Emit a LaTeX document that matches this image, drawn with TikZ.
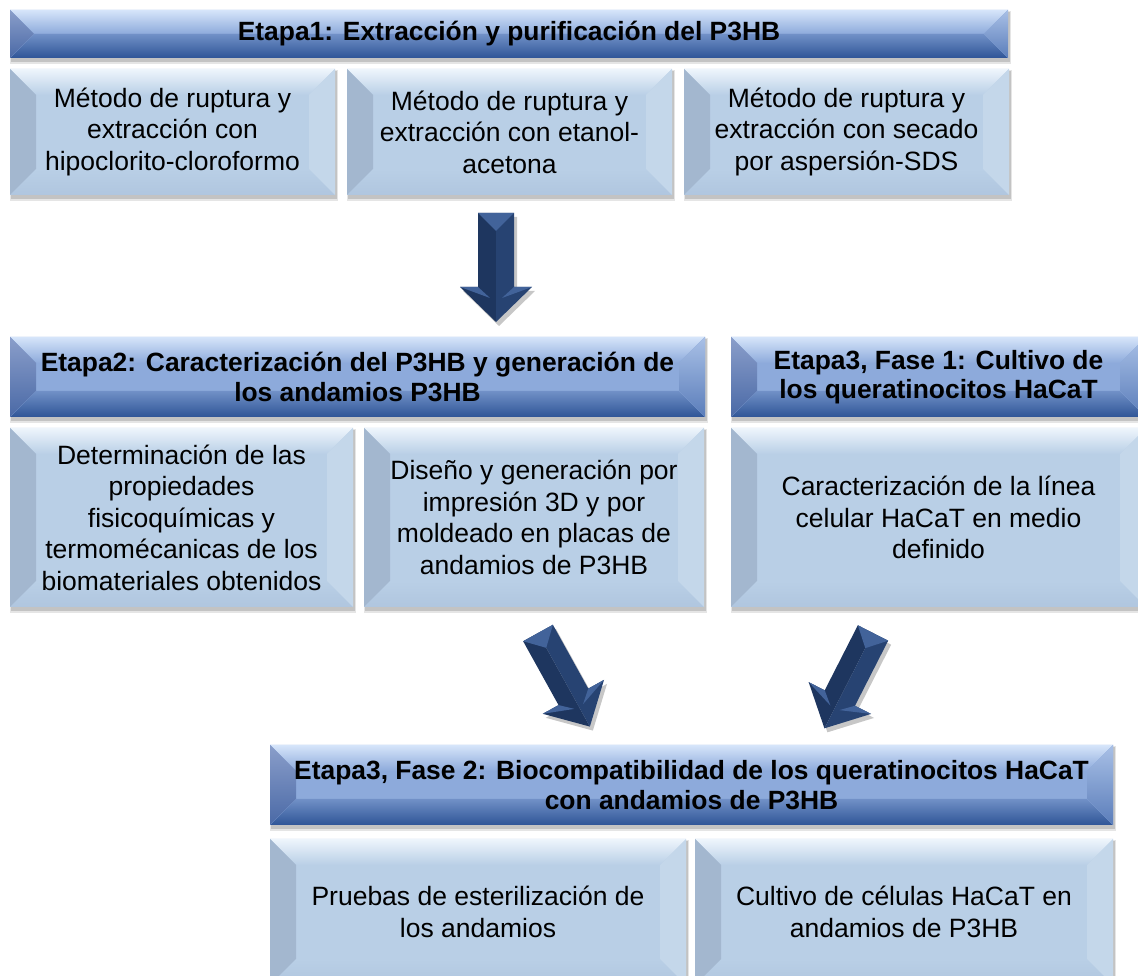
\documentclass[tikz,border=0pt]{standalone}
\usepackage{fontspec}
\setmainfont{Liberation Sans}
\usetikzlibrary{backgrounds,calc}
\definecolor{subbase}{HTML}{B9CFE6}
\definecolor{subtop}{HTML}{EEF5FC}
\definecolor{subleft}{HTML}{A3B7CF}
\definecolor{subright}{HTML}{C4D7EA}
\definecolor{subbot}{HTML}{B0C6DF}
\definecolor{hdhi}{HTML}{D6E5FA}
\definecolor{hdmid}{HTML}{8DAADB}
\definecolor{hdbot}{HTML}{2F5597}
\definecolor{hdleft}{HTML}{8A9ECA}
\definecolor{hdleftb}{HTML}{4A69A6}
\definecolor{hdright}{HTML}{A9C0E6}
\definecolor{hdrightb}{HTML}{5A7DBA}
\definecolor{arrL}{HTML}{1E365F}
\definecolor{arrR}{HTML}{274372}
\definecolor{arrHi}{HTML}{42639A}
\newcommand\facets[5]{%
  \path (path picture bounding box.north west) coordinate (pNW)
        (path picture bounding box.north east) coordinate (pNE)
        (path picture bounding box.south west) coordinate (pSW)
        (path picture bounding box.south east) coordinate (pSE);
  \fill[#2] (pNW) -- (pNE) -- ([shift={(-#1,-#1)}]pNE) -- ([shift={(#1,-#1)}]pNW) -- cycle;
  \fill[#5] (pSW) -- ([shift={(#1,#1)}]pSW) -- ([shift={(-#1,#1)}]pSE) -- (pSE) -- cycle;
  \fill[#3] (pNW) -- ([shift={(#1,-#1)}]pNW) -- ([shift={(#1,#1)}]pSW) -- (pSW) -- cycle;
  \fill[#4] (pNE) -- ([shift={(-#1,-#1)}]pNE) -- ([shift={(-#1,#1)}]pSE) -- (pSE) -- cycle;
}
\newcommand\blockarrow[6]{% tail, angle, length, shaft half width, head half width, head length
  \pgfmathsetmacro\Lh{#3-#6}%
  \begin{scope}[shift={(#1)},xshift=3pt,yshift=-4pt,rotate=#2]
    \fill[black,opacity=.22] (-#4,0) -- (#4,0) -- (#4,-\Lh) -- (#5,-\Lh) -- (0,-#3) -- (-#5,-\Lh) -- (-#4,-\Lh) -- cycle;
  \end{scope}
  \begin{scope}[shift={(#1)},rotate=#2]
    \fill[arrL] (-#4,0) -- (0,0) -- (0,-#3) -- (-#5,-\Lh) -- (-#4,-\Lh) -- cycle;
    \fill[arrR] (0,0) -- (#4,0) -- (#4,-\Lh) -- (#5,-\Lh) -- (0,-#3) -- cycle;
    \fill[arrHi] (-#4,0) -- (#4,0) -- (0,-#4) -- cycle;
    \fill[arrHi] (-#5,-\Lh) -- (-#4,-\Lh) -- ($(-#4,-\Lh)+(12,-11)$) -- cycle;
    \fill[arrHi] (#5,-\Lh) -- (#4,-\Lh) -- ($(#4,-\Lh)+(-12,-11)$) -- cycle;
  \end{scope}}
\tikzset{
  subbox/.style={rectangle, fill=subbase, inner sep=0pt, align=center, text=black,
    font=\fontsize{26.5}{31.5}\selectfont,
    path picture={\facets{26pt}{top color=subtop,bottom color=subbase}{fill=subleft}{fill=subright}{top color=subbase,bottom color=subbot}}},
  header/.style={rectangle, fill=hdmid, inner sep=0pt, align=center, text=black,
    font=\fontsize{26.4}{29.5}\selectfont\bfseries,
    path picture={\facets{#1}{top color=hdhi,bottom color=hdmid}{top color=hdleft,bottom color=hdleftb}{top color=hdright,bottom color=hdrightb}{top color=hdmid!70!hdbot,bottom color=hdbot}}},
  header/.default=26pt
}
\begin{document}
\begin{tikzpicture}[x=1pt,y=1pt]
\useasboundingbox (0,0) rectangle (1138,976);
% Etapa 1
\node[header=24pt, minimum width=998pt, minimum height=48pt] (h1) at (509,942) {Etapa1: Extracción y purificación del P3HB};
\node[subbox, minimum width=325pt, minimum height=126pt] (b11) at (172.5,844) {Método de ruptura y\\extracción con\\hipoclorito-cloroformo};
\node[subbox, minimum width=325pt, minimum height=126pt] (b12) at (509.5,844) {Método de ruptura y\\extracción con etanol-\\acetona};
\node[subbox, minimum width=325pt, minimum height=126pt] (b13) at (846.5,844) {Método de ruptura y\\extracción con secado\\por aspersión-SDS};
% Etapa 2
\node[header, minimum width=695pt, minimum height=80pt] (h2) at (357.5,599) {Etapa2: Caracterización del P3HB y generación de\\los andamios P3HB};
\node[subbox, minimum width=343pt, minimum height=179pt] (b21) at (181.5,458.5) {Determinación de las\\propiedades\\fisicoquímicas y\\termomécanicas de los\\biomateriales obtenidos};
\node[subbox, minimum width=340pt, minimum height=179pt] (b22) at (534,458.5) {Diseño y generación por\\impresión 3D y por\\moldeado en placas de\\andamios de P3HB};
% Etapa 3 fase 1
\node[header, minimum width=415pt, minimum height=80pt] (h3) at (938.5,599) {Etapa3, Fase 1: Cultivo de\\los queratinocitos HaCaT};
\node[subbox, minimum width=415pt, minimum height=179pt] (b31) at (938.5,458.5) {Caracterización de la línea\\celular HaCaT en medio\\definido};
% Etapa 3 fase 2
\node[header, minimum width=843pt, minimum height=80pt] (h4) at (691.5,191) {Etapa3, Fase 2: Biocompatibilidad de los queratinocitos HaCaT\\con andamios de P3HB};
\node[subbox, minimum width=416pt, minimum height=146pt] (b41) at (478,64) {Pruebas de esterilización de\\los andamios};
\node[subbox, minimum width=418pt, minimum height=146pt] (b42) at (904,64) {Cultivo de células HaCaT en\\andamios de P3HB};
% shadows
\begin{scope}[on background layer]
\foreach \n in {h1,b11,b12,b13,h2,b21,b22,h3,b31,h4,b41,b42}{
  \fill[black,opacity=.10] ([shift={(0pt,-6pt)}]\n.south west) rectangle ([shift={(3pt,-1pt)}]\n.north east);
  \fill[black,opacity=.15] ([shift={(1pt,-4pt)}]\n.south west) rectangle ([shift={(2pt,-2pt)}]\n.north east);
}
\end{scope}
% arrows
\coordinate (a1) at (496,763);
\coordinate (a2) at (538,343);
\coordinate (a3) at (873,343);
\blockarrow{a1}{0}{109}{18}{36}{35}
\blockarrow{a2}{29}{107}{17}{35}{34}
\blockarrow{a3}{-27}{107}{17}{35}{34}
\end{tikzpicture}
\end{document}
